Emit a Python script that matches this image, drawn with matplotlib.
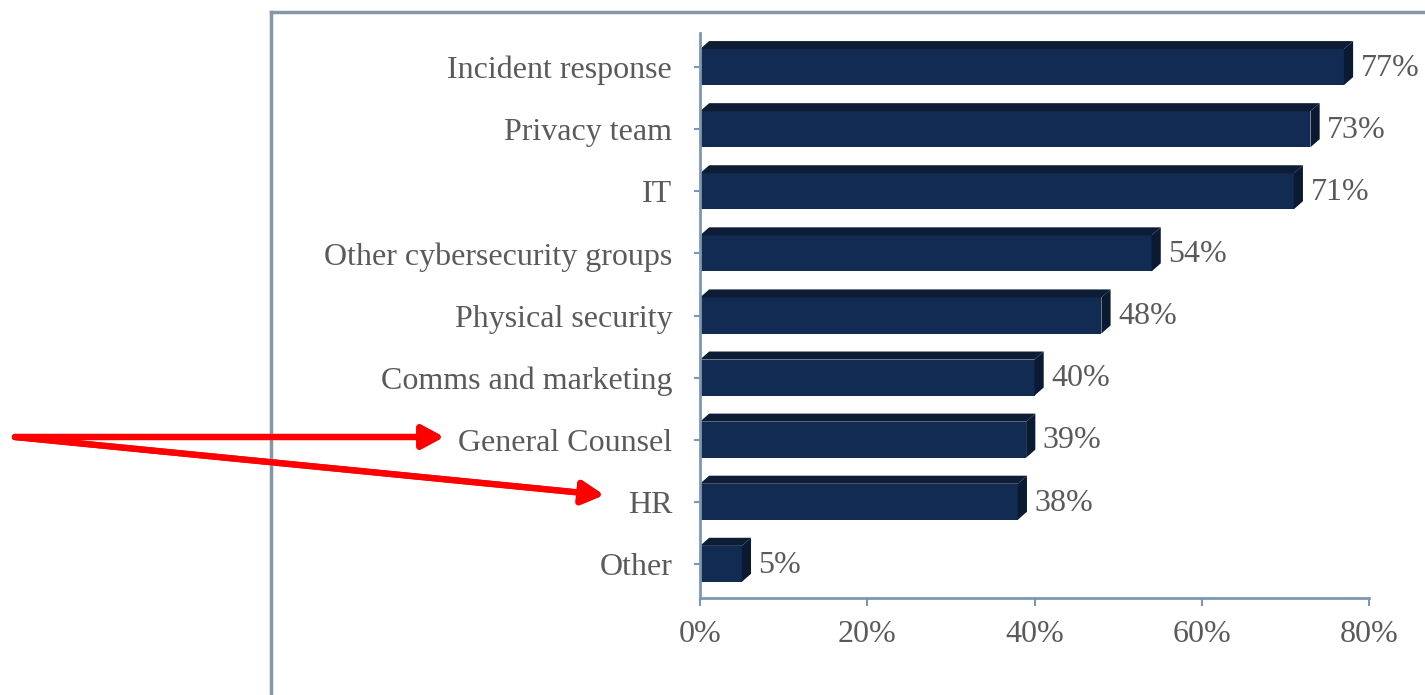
import numpy as np
import matplotlib
matplotlib.use("Agg")
from matplotlib import pyplot as plt
from matplotlib.patches import Polygon
from matplotlib.lines import Line2D

categories = ["Incident response", "Privacy team", "IT", "Other cybersecurity groups",
              "Physical security", "Comms and marketing", "General Counsel", "HR", "Other"]
values = [77, 73, 71, 54, 48, 40, 39, 38, 5]
x_ticks = [0, 20, 40, 60, 80]

plt.rcParams["font.family"] = ["Liberation Serif", "DejaVu Serif"]
text_color = "#5a5a5a"
axis_color = "#7d97b3"
front_c, top_c, side_c = "#122b52", "#0d1d35", "#0a1a33"

W, H = 1425, 695
fig = plt.figure(figsize=(W / 100, H / 100), dpi=100)
ax = fig.add_axes([700 / W, 1 - 598 / H, (1369 - 700) / W, (598 - 33) / H])

n = len(categories)
ys = np.arange(n)[::-1]
h = 0.58      # front face height
dx = 1.1      # 3D depth in x (data units)
dy = 0.13     # 3D depth in y

ax.barh(ys, values, height=h, color=front_c, edgecolor="none", zorder=2)
for yc, v in zip(ys, values):
    top = Polygon([(0, yc + h / 2), (dx, yc + h / 2 + dy), (v + dx, yc + h / 2 + dy), (v, yc + h / 2)],
                  closed=True, facecolor=top_c, edgecolor="none", zorder=2)
    side = Polygon([(v, yc - h / 2), (v, yc + h / 2), (v + dx, yc + h / 2 + dy), (v + dx, yc - h / 2 + dy)],
                   closed=True, facecolor=side_c, edgecolor="none", zorder=2)
    ax.add_patch(top)
    ax.add_patch(side)
    ax.text(v + dx + 0.9, yc - 0.02, f"{v}%", va="center", ha="left", fontsize=23, color=text_color)

ax.set_xlim(0, 80)
ax.set_ylim(-0.55, n - 0.45)
ax.set_yticks(ys)
ax.set_yticklabels(categories)
ax.set_xticks(x_ticks)
ax.set_xticklabels([f"{t}%" for t in x_ticks])
ax.tick_params(axis="y", length=4, width=1.5, color=axis_color, pad=16, labelsize=23, labelcolor=text_color)
ax.tick_params(axis="x", length=6, width=1.5, color=axis_color, pad=10, labelsize=23, labelcolor=text_color)
for s in ["top", "right"]:
    ax.spines[s].set_visible(False)
for s in ["left", "bottom"]:
    ax.spines[s].set_color(axis_color)
    ax.spines[s].set_linewidth(2)

# outer frame (cropped at right and bottom)
frame_c = "#8796a6"
fig.add_artist(Line2D([271 / W, 271 / W], [0, 1 - 12 / H], color=frame_c, lw=2.5))
fig.add_artist(Line2D([271 / W, 1], [1 - 12 / H, 1 - 12 / H], color=frame_c, lw=2.5))

# red arrows
start = (15 / W, 1 - 437 / H)
for tip in [(444 / W, 1 - 437 / H), (604 / W, 1 - 495 / H)]:
    fig.add_artist(plt.annotate("", xy=tip, xycoords="figure fraction", xytext=start,
                                textcoords="figure fraction",
                                arrowprops=dict(arrowstyle="-|>,head_length=1.3,head_width=0.7",
                                                color="#ff0000", lw=4.5, shrinkA=0, shrinkB=0)))

fig.savefig("out.png", dpi=100)
